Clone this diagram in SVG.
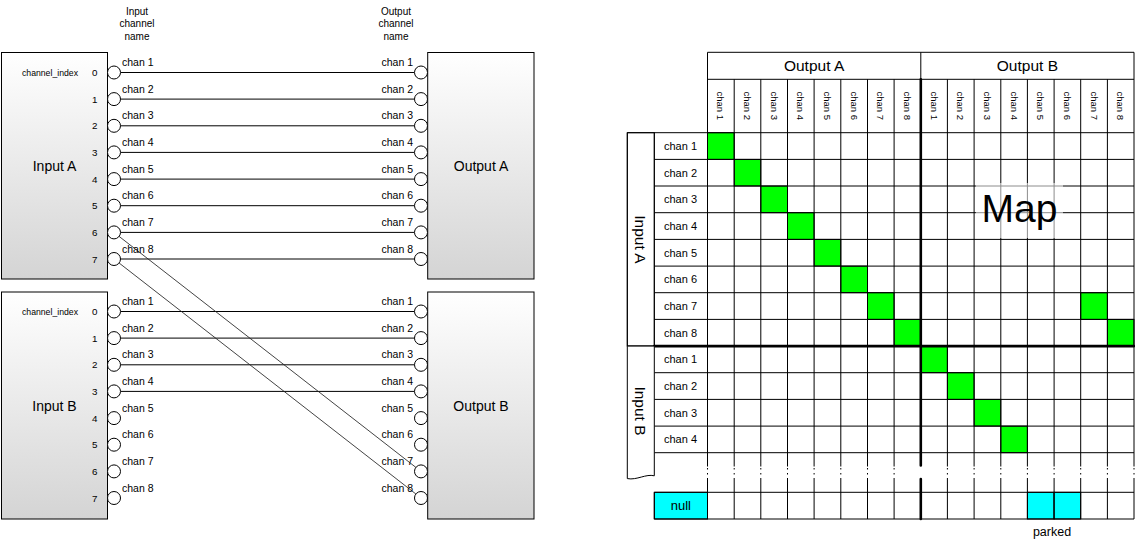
<svg xmlns="http://www.w3.org/2000/svg" width="1135" height="543" viewBox="0 0 1135 543">
<style>
text{font-family:"Liberation Sans",Arial,sans-serif;fill:#000}
.box{stroke:#000;stroke-width:1;fill:url(#g)}
.port{fill:#fff;stroke:#000;stroke-width:1}
.wire{stroke:#000;stroke-width:1;fill:none}
.diag{stroke:#222;stroke-width:0.85;fill:none}
.cl{font-size:10.5px}
.ix{font-size:8.7px;text-anchor:end}
.dg{font-size:9.8px;text-anchor:end}
.hd{font-size:10px;text-anchor:middle}
.big{font-size:14px;text-anchor:middle}
.grid{stroke:#000;stroke-width:1;fill:none}
.dots{stroke:#000;stroke-width:1;fill:none;stroke-dasharray:1.5 3.5}
.heavy{stroke:#000;stroke-width:2.6;fill:none;stroke-linecap:round}
.on{fill:#00ff00;stroke:#000;stroke-width:1}
.pk{fill:#00ffff;stroke:#000;stroke-width:1}
.rl{font-size:11px;text-anchor:middle}
.ch{font-size:9.5px;text-anchor:middle}
.gl{font-size:15.5px;text-anchor:middle}
</style>
<defs>
<linearGradient id="g" x1="0" y1="0" x2="0" y2="1">
<stop offset="0" stop-color="#ffffff"/>
<stop offset="1" stop-color="#d4d4d4"/>
</linearGradient>
</defs>

<g id="headers">
<text class="hd" x="137" y="14.5">Input</text>
<text class="hd" x="137" y="27">channel</text>
<text class="hd" x="137" y="39.5">name</text>
<text class="hd" x="396" y="14.5">Output</text>
<text class="hd" x="396" y="27">channel</text>
<text class="hd" x="396" y="39.5">name</text>
</g>

<g id="input-a">
<rect class="box" x="1.5" y="52.5" width="106" height="226.5"/>
<text class="big" x="54.5" y="170.5">Input A</text>
<text class="ix" x="78" y="75.8">channel_index</text>
<text class="dg" x="97.5" y="76">0</text>
<text class="dg" x="97.5" y="102.6">1</text>
<text class="dg" x="97.5" y="129.3">2</text>
<text class="dg" x="97.5" y="155.9">3</text>
<text class="dg" x="97.5" y="182.6">4</text>
<text class="dg" x="97.5" y="209.2">5</text>
<text class="dg" x="97.5" y="235.9">6</text>
<text class="dg" x="97.5" y="262.5">7</text>
</g>
<g id="output-a">
<rect class="box" x="427.7" y="52.5" width="106.3" height="226.5"/>
<text class="big" x="481" y="170.5">Output A</text>
</g>
<g id="input-b">
<rect class="box" x="1.5" y="292" width="106" height="227"/>
<text class="big" x="54.5" y="410.5">Input B</text>
<text class="ix" x="78" y="314.8">channel_index</text>
<text class="dg" x="97.5" y="315">0</text>
<text class="dg" x="97.5" y="341.6">1</text>
<text class="dg" x="97.5" y="368.3">2</text>
<text class="dg" x="97.5" y="394.9">3</text>
<text class="dg" x="97.5" y="421.6">4</text>
<text class="dg" x="97.5" y="448.2">5</text>
<text class="dg" x="97.5" y="474.9">6</text>
<text class="dg" x="97.5" y="501.5">7</text>
</g>
<g id="output-b">
<rect class="box" x="427.7" y="292" width="106.3" height="227"/>
<text class="big" x="481" y="410.5">Output B</text>
</g>

<g id="connectors">
<path class="wire" d="M120.5,72.5H414.5M120.5,99.1H414.5M120.5,125.8H414.5M120.5,152.4H414.5M120.5,179.1H414.5M120.5,205.7H414.5M120.5,232.4H414.5M120.5,259H414.5M120.5,311.5H414.5M120.5,338.1H414.5M120.5,364.8H414.5M120.5,391.4H414.5"/>
<path class="diag" d="M119.1,236.4L415.9,467.4M119.1,263L415.9,494"/>
</g>

<g id="ports-in-a">
<circle class="port" cx="114" cy="72.5" r="6.5"/><circle class="port" cx="114" cy="99.1" r="6.5"/><circle class="port" cx="114" cy="125.8" r="6.5"/><circle class="port" cx="114" cy="152.4" r="6.5"/><circle class="port" cx="114" cy="179.1" r="6.5"/><circle class="port" cx="114" cy="205.7" r="6.5"/><circle class="port" cx="114" cy="232.4" r="6.5"/><circle class="port" cx="114" cy="259" r="6.5"/>
<text class="cl" x="122" y="66">chan 1</text><text class="cl" x="122" y="92.6">chan 2</text><text class="cl" x="122" y="119.3">chan 3</text><text class="cl" x="122" y="145.9">chan 4</text><text class="cl" x="122" y="172.6">chan 5</text><text class="cl" x="122" y="199.2">chan 6</text><text class="cl" x="122" y="225.9">chan 7</text><text class="cl" x="122" y="252.5">chan 8</text>
</g>
<g id="ports-out-a">
<circle class="port" cx="421" cy="72.5" r="6.5"/><circle class="port" cx="421" cy="99.1" r="6.5"/><circle class="port" cx="421" cy="125.8" r="6.5"/><circle class="port" cx="421" cy="152.4" r="6.5"/><circle class="port" cx="421" cy="179.1" r="6.5"/><circle class="port" cx="421" cy="205.7" r="6.5"/><circle class="port" cx="421" cy="232.4" r="6.5"/><circle class="port" cx="421" cy="259" r="6.5"/>
<g style="text-anchor:end"><text class="cl" x="413" y="66">chan 1</text><text class="cl" x="413" y="92.6">chan 2</text><text class="cl" x="413" y="119.3">chan 3</text><text class="cl" x="413" y="145.9">chan 4</text><text class="cl" x="413" y="172.6">chan 5</text><text class="cl" x="413" y="199.2">chan 6</text><text class="cl" x="413" y="225.9">chan 7</text><text class="cl" x="413" y="252.5">chan 8</text></g>
</g>
<g id="ports-in-b">
<circle class="port" cx="114" cy="311.5" r="6.5"/><circle class="port" cx="114" cy="338.1" r="6.5"/><circle class="port" cx="114" cy="364.8" r="6.5"/><circle class="port" cx="114" cy="391.4" r="6.5"/><circle class="port" cx="114" cy="418.1" r="6.5"/><circle class="port" cx="114" cy="444.7" r="6.5"/><circle class="port" cx="114" cy="471.4" r="6.5"/><circle class="port" cx="114" cy="498" r="6.5"/>
<text class="cl" x="122" y="305">chan 1</text><text class="cl" x="122" y="331.6">chan 2</text><text class="cl" x="122" y="358.3">chan 3</text><text class="cl" x="122" y="384.9">chan 4</text><text class="cl" x="122" y="411.6">chan 5</text><text class="cl" x="122" y="438.2">chan 6</text><text class="cl" x="122" y="464.9">chan 7</text><text class="cl" x="122" y="491.5">chan 8</text>
</g>
<g id="ports-out-b">
<circle class="port" cx="421" cy="311.5" r="6.5"/><circle class="port" cx="421" cy="338.1" r="6.5"/><circle class="port" cx="421" cy="364.8" r="6.5"/><circle class="port" cx="421" cy="391.4" r="6.5"/><circle class="port" cx="421" cy="418.1" r="6.5"/><circle class="port" cx="421" cy="444.7" r="6.5"/><circle class="port" cx="421" cy="471.4" r="6.5"/><circle class="port" cx="421" cy="498" r="6.5"/>
<g style="text-anchor:end"><text class="cl" x="413" y="305">chan 1</text><text class="cl" x="413" y="331.6">chan 2</text><text class="cl" x="413" y="358.3">chan 3</text><text class="cl" x="413" y="384.9">chan 4</text><text class="cl" x="413" y="411.6">chan 5</text><text class="cl" x="413" y="438.2">chan 6</text><text class="cl" x="413" y="464.9">chan 7</text><text class="cl" x="413" y="491.5">chan 8</text></g>
</g>

<g id="map">
<g id="map-cells">
<rect class="on" x="707.5" y="132.7" width="26.7" height="26.7"/>
<rect class="on" x="734.2" y="159.4" width="26.6" height="26.6"/>
<rect class="on" x="760.8" y="186" width="26.7" height="26.7"/>
<rect class="on" x="787.5" y="212.7" width="26.6" height="26.7"/>
<rect class="on" x="814.1" y="239.4" width="26.7" height="26.7"/>
<rect class="on" x="840.8" y="266.1" width="26.7" height="26.6"/>
<rect class="on" x="867.5" y="292.7" width="26.6" height="26.7"/>
<rect class="on" x="894.1" y="319.4" width="26.7" height="26.7"/>
<rect class="on" x="1080.7" y="292.7" width="26.7" height="26.7"/>
<rect class="on" x="1107.4" y="319.4" width="26.6" height="26.7"/>
<rect class="on" x="920.8" y="346.1" width="26.6" height="26.6"/>
<rect class="on" x="947.4" y="372.7" width="26.7" height="26.7"/>
<rect class="on" x="974.1" y="399.4" width="26.7" height="26.7"/>
<rect class="on" x="1000.8" y="426.1" width="26.6" height="26.6"/>
<rect class="pk" x="1027.4" y="492.3" width="26.7" height="26.7"/>
<rect class="pk" x="1054.1" y="492.3" width="26.6" height="26.7"/>
<rect class="pk" x="654.3" y="492.3" width="53.2" height="26.7"/>
</g>
<g id="map-grid">
<path class="grid" d="M707.5,52.3H1134M707.5,79.3H1134M627.3,132.7H1134M654.3,159.4H1134M654.3,186H1134M654.3,212.7H1134M654.3,239.4H1134M654.3,266.1H1134M654.3,292.7H1134M654.3,319.4H1134M627.3,346.1H654.3M654.3,372.7H1134M654.3,399.4H1134M654.3,426.1H1134M654.3,452.7H1134M654.3,492.3H1134M654.3,519H1134"/>
<path class="grid" d="M707.5,52.3V466.5M707.5,478V519M734.2,79.3V466.5M734.2,478V519M760.8,79.3V466.5M760.8,478V519M787.5,79.3V466.5M787.5,478V519M814.1,79.3V466.5M814.1,478V519M840.8,79.3V466.5M840.8,478V519M867.5,79.3V466.5M867.5,478V519M894.1,79.3V466.5M894.1,478V519M920.8,52.3V79.3M947.4,79.3V466.5M947.4,478V519M974.1,79.3V466.5M974.1,478V519M1000.8,79.3V466.5M1000.8,478V519M1027.4,79.3V466.5M1027.4,478V519M1054.1,79.3V466.5M1054.1,478V519M1080.7,79.3V466.5M1080.7,478V519M1107.4,79.3V466.5M1107.4,478V519M1134,52.3V466.5M1134,478V519M654.3,132.7V346.1M654.3,492.3V519M627.3,132.7V346.1"/>
<path class="dots" d="M707.5,468V478M734.2,468V478M760.8,468V478M787.5,468V478M814.1,468V478M840.8,468V478M867.5,468V478M894.1,468V478M947.4,468V478M974.1,468V478M1000.8,468V478M1027.4,468V478M1054.1,468V478M1080.7,468V478M1107.4,468V478M1134,468V478"/>
<path class="heavy" d="M654.3,346.1H1134M920.8,79.3V465.5M920.8,479V519"/>
</g>
<g id="group-input-a">
<rect x="627.3" y="132.7" width="27" height="213.4" fill="none" stroke="#000"/>
<text class="gl" transform="translate(640.8,239.4) rotate(90)" dy="5.5">Input A</text>
</g>
<g id="group-input-b">
<path d="M627.3,346.1H654.3V475.8C646,473.6 637,480.4 627.3,478.6Z" fill="#fff" stroke="#000"/>
<text class="gl" transform="translate(640.8,411) rotate(90)" dy="5.5">Input B</text>
</g>
<g id="out-headers">
<text class="gl" x="814.1" y="71.3">Output A</text>
<text class="gl" x="1027.4" y="71.3">Output B</text>
<text class="ch" transform="translate(720.8,105.8) rotate(90)" dy="3.4">chan 1</text>
<text class="ch" transform="translate(747.5,105.8) rotate(90)" dy="3.4">chan 2</text>
<text class="ch" transform="translate(774.2,105.8) rotate(90)" dy="3.4">chan 3</text>
<text class="ch" transform="translate(800.8,105.8) rotate(90)" dy="3.4">chan 4</text>
<text class="ch" transform="translate(827.5,105.8) rotate(90)" dy="3.4">chan 5</text>
<text class="ch" transform="translate(854.1,105.8) rotate(90)" dy="3.4">chan 6</text>
<text class="ch" transform="translate(880.8,105.8) rotate(90)" dy="3.4">chan 7</text>
<text class="ch" transform="translate(907.5,105.8) rotate(90)" dy="3.4">chan 8</text>
<text class="ch" transform="translate(934.1,105.8) rotate(90)" dy="3.4">chan 1</text>
<text class="ch" transform="translate(960.8,105.8) rotate(90)" dy="3.4">chan 2</text>
<text class="ch" transform="translate(987.4,105.8) rotate(90)" dy="3.4">chan 3</text>
<text class="ch" transform="translate(1014.1,105.8) rotate(90)" dy="3.4">chan 4</text>
<text class="ch" transform="translate(1040.7,105.8) rotate(90)" dy="3.4">chan 5</text>
<text class="ch" transform="translate(1067.4,105.8) rotate(90)" dy="3.4">chan 6</text>
<text class="ch" transform="translate(1094.1,105.8) rotate(90)" dy="3.4">chan 7</text>
<text class="ch" transform="translate(1120.7,105.8) rotate(90)" dy="3.4">chan 8</text>
</g>
<g id="row-labels">
<text class="rl" x="680.5" y="150">chan 1</text>
<text class="rl" x="680.5" y="176.7">chan 2</text>
<text class="rl" x="680.5" y="203.4">chan 3</text>
<text class="rl" x="680.5" y="230">chan 4</text>
<text class="rl" x="680.5" y="256.7">chan 5</text>
<text class="rl" x="680.5" y="283.4">chan 6</text>
<text class="rl" x="680.5" y="310">chan 7</text>
<text class="rl" x="680.5" y="336.7">chan 8</text>
<text class="rl" x="680.5" y="363.4">chan 1</text>
<text class="rl" x="680.5" y="390">chan 2</text>
<text class="rl" x="680.5" y="416.7">chan 3</text>
<text class="rl" x="680.5" y="443.4">chan 4</text>
<text class="rl" x="680.9" y="510.3" style="font-size:13px">null</text>
</g>
<g id="map-label">
<rect x="976" y="183" width="87" height="55" fill="#fff" fill-opacity="0.55"/>
<text x="1019.5" y="221.5" style="font-size:39px;text-anchor:middle">Map</text>
</g>
<g id="parked-label">
<text x="1052" y="536" style="font-size:12.5px;text-anchor:middle">parked</text>
</g>
</g>
</svg>
